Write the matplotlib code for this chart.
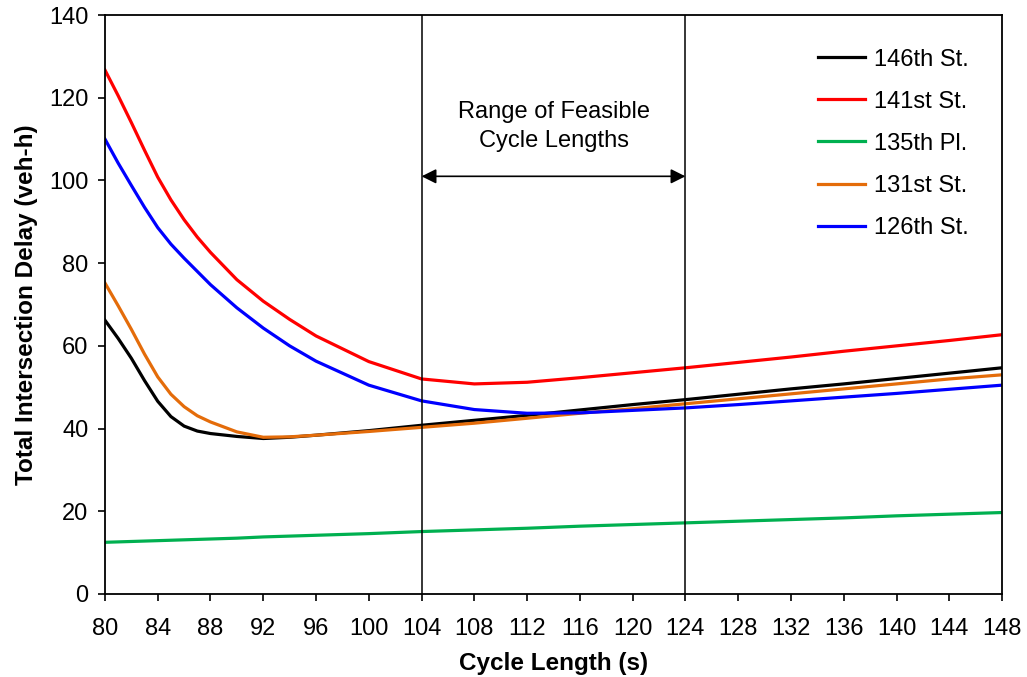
import matplotlib.pyplot as plt

plt.rcParams['font.family'] = ['Liberation Sans', 'DejaVu Sans']

cycle = [80, 81, 82, 83, 84, 85, 86, 87, 88, 90, 92, 94, 96, 100, 104, 108, 112, 116, 120, 124, 128, 132, 136, 140, 144, 148]
st146 = [66.2, 61.8, 57.0, 51.6, 46.6, 42.9, 40.6, 39.4, 38.8, 38.1, 37.6, 37.9, 38.4, 39.5, 40.8, 42.0, 43.2, 44.5, 45.8, 47.0, 48.3, 49.6, 50.8, 52.1, 53.4, 54.7]
st141 = [126.7, 120.5, 114.0, 107.3, 100.8, 95.3, 90.5, 86.3, 82.6, 76.0, 70.8, 66.4, 62.4, 56.2, 52.0, 50.8, 51.2, 52.3, 53.5, 54.7, 56.0, 57.3, 58.7, 60.0, 61.3, 62.7]
pl135 = [12.5, 12.6, 12.7, 12.8, 12.9, 13.0, 13.1, 13.2, 13.3, 13.5, 13.8, 14.0, 14.2, 14.6, 15.1, 15.5, 15.9, 16.4, 16.8, 17.2, 17.6, 18.0, 18.4, 18.9, 19.3, 19.7]
st131 = [75.2, 69.7, 64.0, 58.0, 52.5, 48.3, 45.3, 43.1, 41.6, 39.2, 37.9, 38.0, 38.4, 39.3, 40.3, 41.3, 42.5, 43.7, 44.8, 46.0, 47.2, 48.4, 49.6, 50.8, 52.0, 53.0]
st126 = [110.0, 104.2, 98.8, 93.5, 88.6, 84.6, 81.2, 78.0, 74.8, 69.2, 64.3, 60.0, 56.3, 50.5, 46.7, 44.6, 43.7, 43.8, 44.4, 45.0, 45.8, 46.7, 47.6, 48.5, 49.5, 50.5]

series = [('146th St.', st146, '#000000'),
          ('141st St.', st141, '#ff0000'),
          ('135th Pl.', pl135, '#00b050'),
          ('131st St.', st131, '#e46c0a'),
          ('126th St.', st126, '#0000ff')]

fig = plt.figure(figsize=(10.27, 6.77), dpi=100)
ax = fig.add_axes([0.1022, 0.1226, 0.8735, 0.8552])

for name, vals, col in series:
    ax.plot(cycle, vals, color=col, lw=2.3, label=name, solid_joinstyle='round')

# feasible range
for xv in (104, 124):
    ax.axvline(xv, color='black', lw=1.1)
ax.annotate('', xy=(104, 101), xytext=(124, 101),
            arrowprops=dict(arrowstyle='<|-|>', color='black', lw=1.2, mutation_scale=22,
                            shrinkA=0, shrinkB=0))
ax.text(114, 113, 'Range of Feasible\nCycle Lengths', ha='center', va='center',
        fontsize=17, linespacing=1.4)

ax.set_xlim(80, 148)
ax.set_ylim(0, 140)
ax.set_xticks(range(80, 149, 4))
ax.set_yticks(range(0, 141, 20))
ax.tick_params(direction='out', length=5, width=1.2, labelsize=17)
ax.tick_params(axis='x', pad=12)
ax.tick_params(axis='y', pad=7)
for sp in ax.spines.values():
    sp.set_linewidth(1.3)

ax.set_xlabel('Cycle Length (s)', fontsize=17.5, fontweight='bold', labelpad=9)
ax.set_ylabel('Total Intersection Delay (veh-h)', fontsize=17.5, fontweight='bold', labelpad=8)

ax.legend(loc='upper left', frameon=False, fontsize=17, handlelength=2.0,
          handletextpad=0.35, labelspacing=0.85, borderpad=0, borderaxespad=0,
          bbox_to_anchor=(0.795, 0.942))

fig.savefig('out.png', dpi=100)
